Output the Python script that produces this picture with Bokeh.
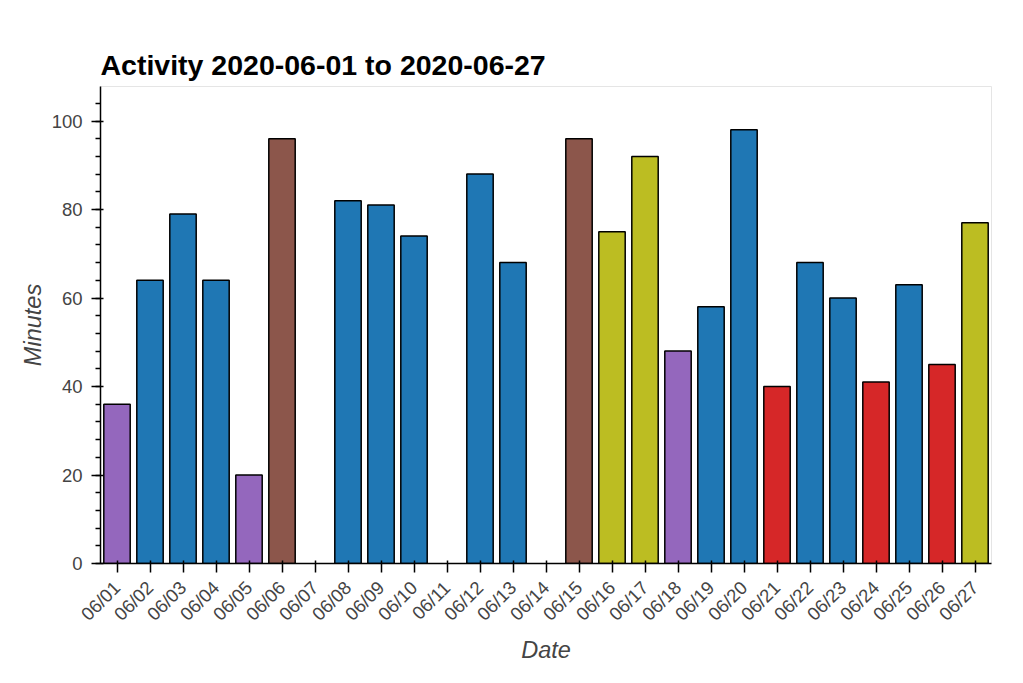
from bokeh.plotting import figure
from bokeh.models import ColumnDataSource, Range1d
from bokeh.embed import file_html
from bokeh.resources import INLINE

# Data
dates = ["06/01", "06/02", "06/03", "06/04", "06/05", "06/06", "06/07", "06/08", "06/09",
         "06/10", "06/11", "06/12", "06/13", "06/14", "06/15", "06/16", "06/17", "06/18",
         "06/19", "06/20", "06/21", "06/22", "06/23", "06/24", "06/25", "06/26", "06/27"]
minutes = [36, 64, 79, 64, 20, 96, 0, 82, 81,
           74, 0, 88, 68, 0, 96, 75, 92, 48,
           58, 98, 40, 68, 60, 41, 63, 45, 77]
activity = ["C", "A", "A", "A", "C", "D", "", "A", "A",
            "A", "", "A", "A", "", "D", "E", "E", "C",
            "A", "A", "B", "A", "A", "B", "A", "B", "E"]
activity_colors = {"A": "#1f77b4", "B": "#d62728", "C": "#9467bd",
                   "D": "#8c564b", "E": "#bcbd22"}

keep = [i for i, m in enumerate(minutes) if m > 0]
source = ColumnDataSource(dict(
    date=[dates[i] for i in keep],
    minutes=[minutes[i] for i in keep],
    color=[activity_colors[activity[i]] for i in keep],
))

FONT = "Liberation Sans"

p = figure(x_range=dates, y_range=Range1d(0, max(minutes) * 1.1),
           title="Activity 2020-06-01 to 2020-06-27",
           frame_width=891, frame_height=477,
           min_border_left=100, min_border_right=16,
           min_border_top=86, min_border_bottom=100,
           output_backend="svg", toolbar_location=None)

p.vbar(x="date", top="minutes", width=0.8, source=source,
       fill_color="color", line_color="black", line_width=1.5)

p.x_range.range_padding = 0
p.xgrid.visible = False
p.ygrid.visible = False

p.title.text_font = FONT
p.title.text_font_size = "28.5px"
p.title.text_font_style = "bold"
p.title.text_color = "black"
p.title.vertical_align = "middle"

p.xaxis.axis_label = "Date"
p.yaxis.axis_label = "Minutes"
for ax in (p.xaxis[0], p.yaxis[0]):
    ax.axis_label_text_font = FONT
    ax.axis_label_text_font_size = "23.5px"
    ax.axis_label_text_font_style = "italic"
    ax.axis_label_text_color = "#444444"
    ax.major_label_text_font = FONT
    ax.major_label_text_font_size = "18.5px"
    ax.major_label_text_color = "#444444"
    ax.axis_line_width = 1.5
    ax.major_tick_line_width = 1.5
    ax.minor_tick_line_width = 1.5
    ax.major_tick_out = 9
    ax.major_tick_in = 3
    ax.minor_tick_out = 5

p.yaxis.major_label_standoff = 9
p.yaxis.axis_label_standoff = 3
p.xaxis.major_label_standoff = 12
p.xaxis.axis_label_standoff = 2
p.xaxis.major_label_orientation = 0.785398
p.outline_line_color = "#e5e5e5"

open("out.html", "w").write(file_html(p, INLINE))
